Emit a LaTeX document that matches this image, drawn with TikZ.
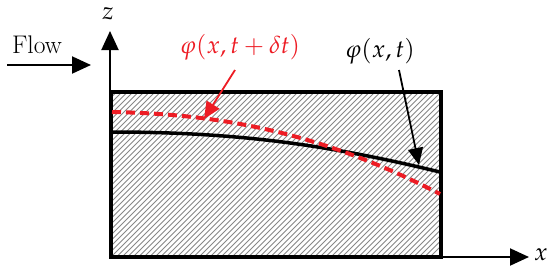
\documentclass[tikz,border=0pt]{standalone}
\usepackage{mathpazo}
\usetikzlibrary{arrows.meta}
\definecolor{mred}{RGB}{237,28,36}
\definecolor{hatchgray}{RGB}{135,135,135}
\tikzset{
  bigtxt/.style={font=\fontsize{24.5}{28}\selectfont, inner sep=0pt},
  axisarrow/.style={line width=2pt, -{Triangle[length=19pt,width=17pt]}},
  pointer/.style={line width=1.8pt, -{Triangle[length=17pt,width=15pt]}},
}
\begin{document}
\begin{tikzpicture}[x=1pt,y=-1pt]
\useasboundingbox (0,0) rectangle (550,274);
% hatching
\begin{scope}
  \clip (111,92) rectangle (441,257);
  \foreach \k in {0,...,110}
    \draw[hatchgray, line width=0.95pt] ({\k*5.5-180},262) -- ++(180,-180);
\end{scope}
% axes
\coordinate (O) at (110,257);
\coordinate (ztip) at (110,31);
\coordinate (xtip) at (529,257);
\draw[axisarrow] (O) -- (ztip);
\draw[axisarrow] (O) -- (xtip);
\node[bigtxt] (zl) at (108,14) {$z$};
\node[bigtxt] (xl) at (541,255) {$x$};
% box
\draw[line width=4pt] (111,92) rectangle (441,257);
% flow
\node[bigtxt, font=\fontsize{25.5}{28}\selectfont] (flow) at (37,45) {Flow};
\coordinate (fs) at (7,65);
\coordinate (fe) at (91,65);
\draw[axisarrow] (fs) -- (fe);
% curves
\draw[line width=3.5pt] (112,132) .. controls (250,132) and (340,148) .. (440,172);
\draw[mred, line width=4pt, dash pattern=on 9pt off 5pt] (112,112) .. controls (220,114) and (320,132) .. (440,194);
% labels
\node[bigtxt, text=mred] (phired) at (240,47) {$\varphi(x,t+\delta t)$};
\node[bigtxt] (phiblk) at (380,51) {$\varphi(x,t)$};
\coordinate (rtip) at (204,119);
\coordinate (btip) at (419,165);
\draw[pointer, mred] (235,70) -- (rtip);
\draw[pointer] (399,70) -- (btip);
\end{tikzpicture}
\end{document}
